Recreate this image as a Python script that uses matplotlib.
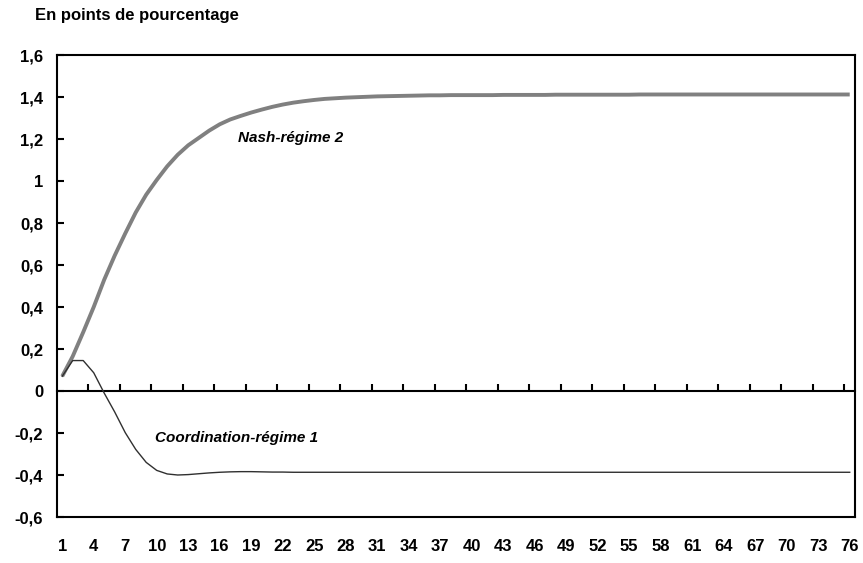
import numpy as np
import matplotlib
matplotlib.use('Agg')
import matplotlib.pyplot as plt
from matplotlib.ticker import FuncFormatter

plt.rcParams['font.family'] = ['Liberation Sans', 'DejaVu Sans']

# periods 1..76
periods = list(range(1, 77))

# Nash-regime 2 (thick grey line)
nash = [0.07, 0.165, 0.28, 0.40, 0.53, 0.645, 0.75, 0.85, 0.935, 1.005,
        1.07, 1.125, 1.17, 1.205, 1.24, 1.27, 1.293, 1.31, 1.326, 1.34,
        1.353, 1.364, 1.373, 1.38, 1.386, 1.391, 1.394, 1.397, 1.399, 1.401,
        1.403, 1.404, 1.405, 1.406, 1.407, 1.408, 1.408, 1.409, 1.409, 1.409,
        1.409, 1.409, 1.410, 1.410, 1.410, 1.410, 1.410, 1.411, 1.411, 1.411,
        1.411, 1.411, 1.411, 1.411, 1.411, 1.412, 1.412, 1.412, 1.412, 1.412,
        1.412, 1.412, 1.412, 1.412, 1.412, 1.412, 1.412, 1.412, 1.412, 1.412,
        1.412, 1.412, 1.412, 1.412, 1.412, 1.412]

# Coordination-regime 1 (thin dark line)
coord = [0.07, 0.145, 0.145, 0.087, -0.01, -0.10, -0.198, -0.278, -0.34, -0.378,
         -0.395, -0.40, -0.398, -0.394, -0.39, -0.387, -0.385, -0.384, -0.384, -0.385,
         -0.386, -0.386] + [-0.387] * 54

xtick_labels = periods[::3]
yticks = [-0.6, -0.4, -0.2, 0, 0.2, 0.4, 0.6, 0.8, 1.0, 1.2, 1.4, 1.6]


def fr_fmt(v, pos):
    s = ('%.1f' % v).replace('.', ',')
    if s.endswith(',0'):
        s = s[:-2]
    if s == '-0':
        s = '0'
    return s


fig = plt.figure(figsize=(8.63, 5.63), dpi=100)
ax = fig.add_axes([0.066, 0.0817, 0.9247, 0.8206])

ax.plot(periods, nash, color='#808080', lw=2.8, solid_capstyle='butt', zorder=3)
ax.plot(periods, coord, color='#303030', lw=1.0, zorder=3)

ax.set_xlim(0.5, 76.5)
ax.set_ylim(-0.6, 1.6)

ax.set_yticks(yticks)
ax.yaxis.set_major_formatter(FuncFormatter(fr_fmt))
ax.tick_params(axis='y', direction='in', length=5, width=1.5, pad=10,
               labelsize=12)
for lab in ax.get_yticklabels():
    lab.set_fontweight('bold')

ax.set_xticks(xtick_labels)
ax.set_xticklabels([str(v) for v in xtick_labels], fontweight='bold')
ax.tick_params(axis='x', length=0, pad=16, labelsize=12)

for sp in ax.spines.values():
    sp.set_linewidth(1.5)

# zero line with tick marks between categories
sec = ax.secondary_xaxis(0.6 / 2.2)
sec.set_xticks(np.arange(3.5, 76, 3))
sec.tick_params(direction='in', length=5, width=1.5, labelbottom=False,
                labeltop=False)
sec.spines['bottom'].set_linewidth(1.5)
sec.spines['top'].set_visible(False)

ax.text(17.74, 1.205, 'Nash-régime 2', fontsize=11, fontweight='bold',
        fontstyle='italic', ha='left', va='center')
ax.text(9.83, -0.224, 'Coordination-régime 1', fontsize=11, fontweight='bold',
        fontstyle='italic', ha='left', va='center')

fig.text(0.0406, 0.9716, 'En points de pourcentage', fontsize=12,
         fontweight='bold', ha='left', va='center')

fig.savefig('out.png', dpi=100)
